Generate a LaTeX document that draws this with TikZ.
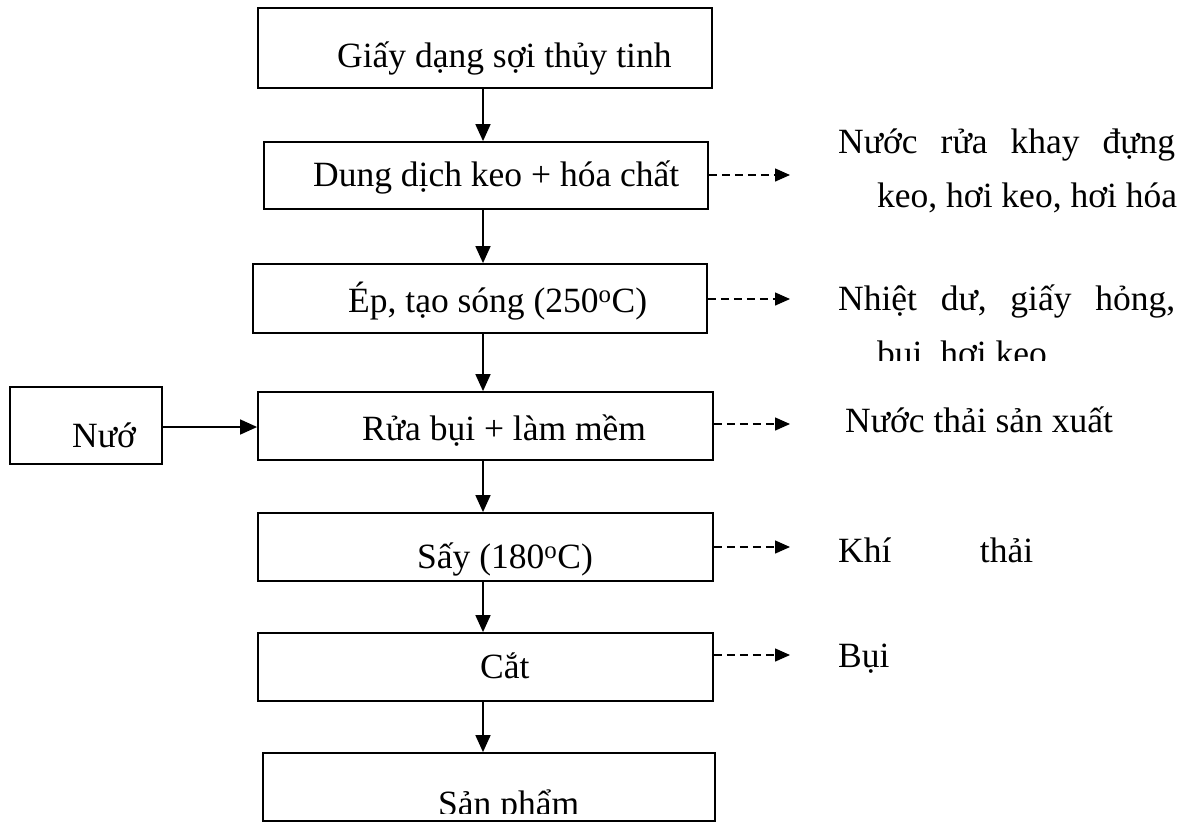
\documentclass[tikz,border=0pt]{standalone}
\usepackage{fontspec}
\setmainfont{Liberation Serif}
\usetikzlibrary{arrows.meta}
\tikzset{
  box/.style={draw, line width=1.8pt, rectangle, inner sep=0pt},
  lbl/.style={inner sep=0pt, font=\fontsize{35.5}{42}\selectfont},
  arr/.style={line width=1.6pt, -{Triangle[length=17pt,width=15pt]}},
  darr/.style={line width=1.4pt, dash pattern=on 8pt off 5pt, -{Triangle[length=15pt,width=13pt]}}
}
\begin{document}
\begin{tikzpicture}[x=1pt,y=-1pt]
\useasboundingbox (0,0) rectangle (1185,823);
\clip (0,0) rectangle (1185,823);
% boxes
\node[box, minimum width=454pt, minimum height=80pt] (b1) at (485,48) {};
\node[box, minimum width=444pt, minimum height=67pt] (b2) at (486,175.5) {};
\node[box, minimum width=454pt, minimum height=69pt] (b3) at (480,298.5) {};
\node[box, minimum width=455pt, minimum height=68pt] (b4) at (485.5,426) {};
\node[box, minimum width=455pt, minimum height=68pt] (b5) at (485.5,547) {};
\node[box, minimum width=455pt, minimum height=68pt] (b6) at (485.5,667) {};
\node[box, minimum width=452pt, minimum height=68pt] (b7) at (489,787) {};
\node[box, minimum width=152pt, minimum height=77pt] (bw) at (86,425.5) {};
% box texts
\node[lbl, anchor=base west] (t1) at (337,67) {Giấy dạng sợi thủy tinh};
\node[lbl, anchor=base west] (t2) at (313,186) {Dung dịch keo + hóa chất};
\node[lbl, anchor=base west] (t3) at (348,312) {Ép, tạo sóng (250\textsuperscript{o}C)};
\node[lbl, anchor=base west] (t4) at (362,440) {Rửa bụi + làm mềm};
\node[lbl, anchor=base west] (t5) at (417,568) {Sấy (180\textsuperscript{o}C)};
\node[lbl, anchor=base west] (t6) at (480,678) {Cắt};
\begin{scope}
\clip (400,760) rectangle (620,813);
\node[lbl, anchor=base west] (t7) at (438,815) {Sản phẩm};
\end{scope}
\node[lbl, anchor=base west] (tw) at (72,447) {Nướ};
% right labels
\node[lbl, anchor=base west] (r1a) at (838,153) {\hbox to 337pt{Nước\hfill rửa\hfill khay\hfill đựng}};
\node[lbl, anchor=base west] (r1b) at (877,207) {keo, hơi keo, hơi hóa};
\node[lbl, anchor=base west] (r2a) at (838,310) {\hbox to 337pt{Nhiệt\hfill dư,\hfill giấy\hfill hỏng,}};
\begin{scope}
\clip (800,320) rectangle (1185,360);
\node[lbl, anchor=base west] (r2b) at (877,365) {bụi, hơi keo};
\end{scope}
\node[lbl, anchor=base west] (r3) at (845,432) {Nước thải sản xuất};
\node[lbl, anchor=base west] (r4) at (838,562) {\hbox to 195pt{Khí\hfill thải}};
\node[lbl, anchor=base west] (r5) at (838,667) {Bụi};
% connectors
\coordinate (ax) at (483,0);
\draw[arr] (ax |- b1.south) -- (ax |- b2.north);
\draw[arr] (ax |- b2.south) -- (ax |- b3.north);
\draw[arr] (ax |- b3.south) -- (ax |- b4.north);
\draw[arr] (ax |- b4.south) -- (ax |- b5.north);
\draw[arr] (ax |- b5.south) -- (ax |- b6.north);
\draw[arr] (ax |- b6.south) -- (ax |- b7.north);
\draw[arr] (bw.east |- 0,427) -- (b4.west |- 0,427);
\coordinate (e2) at (790,175);
\coordinate (e3) at (790,299);
\coordinate (e4) at (790,424);
\coordinate (e5) at (790,547);
\coordinate (e6) at (790,655);
\draw[darr] (b2.east |- e2) -- (e2);
\draw[darr] (b3.east |- e3) -- (e3);
\draw[darr] (b4.east |- e4) -- (e4);
\draw[darr] (b5.east |- e5) -- (e5);
\draw[darr] (b6.east |- e6) -- (e6);
\end{tikzpicture}
\end{document}
